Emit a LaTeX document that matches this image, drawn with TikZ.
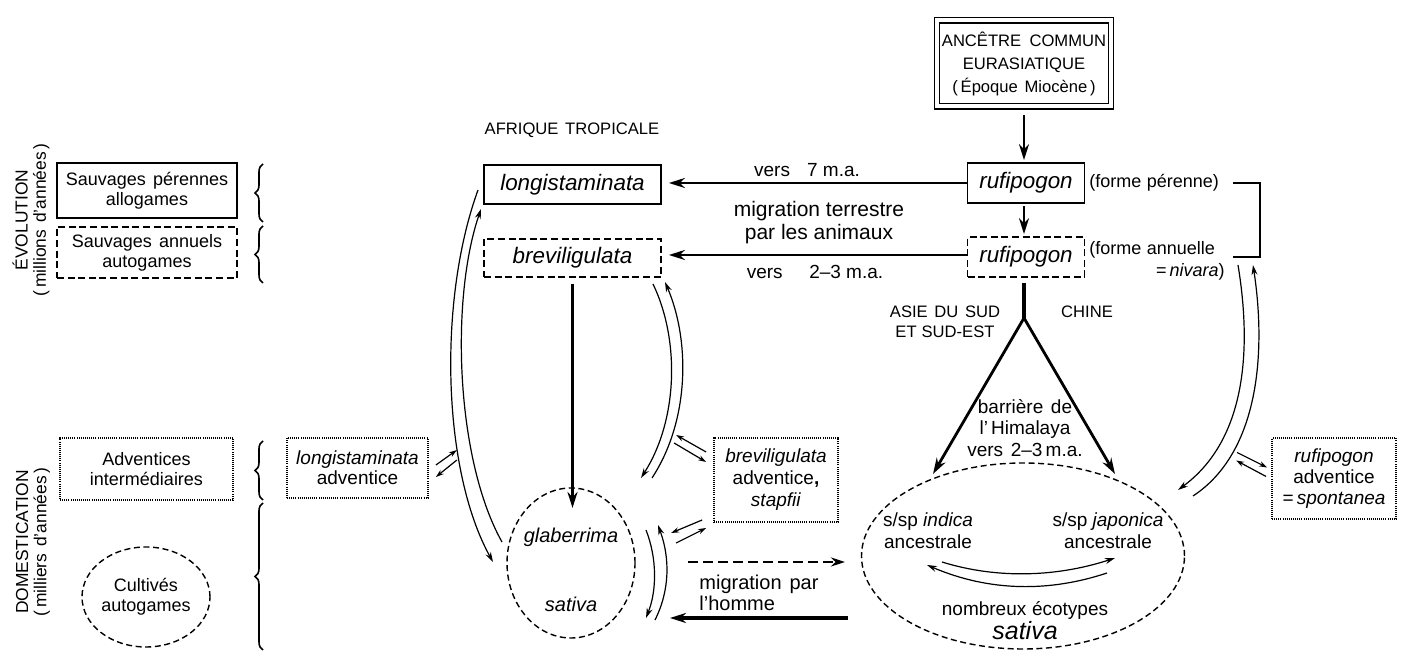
\documentclass[tikz,border=0pt]{standalone}
\usepackage{fontspec}
\setmainfont{Liberation Sans}
\usetikzlibrary{arrows.meta,decorations.pathreplacing,calc,shapes.geometric}
\begin{document}
\begin{tikzpicture}[x=0.5pt,y=-0.5pt,
  solidbox/.style={draw, line width=0.9pt, inner sep=0pt, align=center},
  dashbox/.style={draw, line width=0.9pt, dash pattern=on 3.5pt off 1.8pt, inner sep=0pt, align=center},
  dotbox/.style={draw, line width=0.9pt, dash pattern=on 0.45pt off 0.6pt, inner sep=0pt, align=center},
  dashell/.style={draw, ellipse, line width=0.7pt, dash pattern=on 3pt off 1.8pt, inner sep=0pt, align=center},
  txt/.style={inner sep=0pt, align=center},
  bigarrow/.style={line width=1.4pt, -{Stealth[length=8pt,width=5pt]}},
  thinarrow/.style={line width=0.6pt, -{Stealth[length=5pt,width=3pt]}},
  tinyarrow/.style={line width=0.6pt, -{Stealth[length=4pt,width=2.6pt]}},
  brace/.style={decorate, decoration={brace, amplitude=4pt}, line width=0.8pt},
  fa/.style={font=\fontsize{9}{10}\selectfont},
  fb/.style={font=\fontsize{9.5}{10.8}\selectfont},
  fc/.style={font=\fontsize{11.2}{13}\selectfont},
  fcap/.style={font=\fontsize{8.3}{10}\selectfont},
]
\useasboundingbox (0,0) rectangle (1415,656);

% ---------- legend ----------
\node[txt, rotate=90, font=\fontsize{8.7}{9.2}\selectfont] (evo) at (31,220) {ÉVOLUTION\\(\,millions\hspace{0.4em}d’années\,)};
\node[txt, rotate=90, font=\fontsize{8.7}{9.2}\selectfont] (dom) at (33,542) {DOMESTICATION\\(\,milliers\hspace{0.4em}d’années\,)};

\node[solidbox, fa, minimum width=90pt, minimum height=27.5pt] (lg1) at (147,190.5) {Sauvages\hspace{0.4em}pérennes\\allogames};
\node[dashbox, fa, minimum width=90pt, minimum height=25.5pt] (lg2) at (147,252.5) {Sauvages\hspace{0.4em}annuels\\autogames};
\node[dotbox, fa, minimum width=86.5pt, minimum height=31pt] (lg3) at (146.5,469) {Adventices\\intermédiaires};
\node[dashell, fa, minimum width=64pt, minimum height=50pt] (lg4) at (146,597) {Cultivés\\autogames};

\draw[brace] (263,222) -- (263,164);
\draw[brace] (263,283) -- (263,226);
\draw[brace] (263,500) -- (263,441);
\draw[brace] (263,650) -- (263,503);

% ---------- top ----------
\node[draw, double, double distance=2pt, line width=0.7pt, minimum width=87pt, minimum height=43pt, align=center, inner sep=0pt, font=\fontsize{8.3}{11.5}\selectfont] (anc) at (1024,63.5) {ANCÊTRE\hspace{0.5em}COMMUN\\EURASIATIQUE\\(\,Époque\hspace{0.4em}Miocène\,)};

\node[solidbox, fc, minimum width=58.5pt, minimum height=20pt] (rp1) at (1026,183) {\textit{rufipogon}};
\node[dashbox, fc, minimum width=58.5pt, minimum height=20pt] (rp2) at (1026,257) {\textit{rufipogon}};
\node[txt, fa, anchor=west] (fp) at (1089,183) {(forme\hspace{0.3em}pérenne)};
\node[txt, fa, anchor=west] (fa1) at (1089,250) {(forme\hspace{0.3em}annuelle};
\node[txt, fa, anchor=east] (fa2) at (1225,272) {=\,\textit{nivara})};
\coordinate (bk1) at (1233,183);
\coordinate (bk2) at (1233,257);
\draw[line width=0.8pt] (bk1) -- ++(27,0) |- (bk2);

\draw[bigarrow, line width=1.2pt, shorten <=4pt, shorten >=1pt] (anc.south -| 1024,0) -- (rp1.north -| 1024,0);
\draw[bigarrow, line width=1.2pt, shorten <=1pt, shorten >=1pt] (rp1.south -| 1024,0) -- (rp2.north -| 1024,0);

\node[txt, font=\fontsize{8.3}{10}\selectfont] (afr) at (572,130) {AFRIQUE\hspace{0.4em}TROPICALE};
\node[solidbox, fc, minimum width=88.5pt, minimum height=19.5pt] (longi) at (572.5,184.5) {\textit{longistaminata}};
\node[dashbox, fc, minimum width=88.5pt, minimum height=19pt] (brevi) at (572.5,258) {\textit{breviligulata}};

\draw[bigarrow, shorten >=3.5pt] (rp1.west) -- (rp1.west -| longi.east);
\draw[bigarrow, shorten >=3.5pt] (rp2.west) ++(0,-2) -- ($(rp2.west -| brevi.east)+(0,-2)$);
\node[txt, fb] (v7) at (807,170) {vers\hspace{0.9em}7 m.a.};
\node[txt, font=\fontsize{10.5}{11.5}\selectfont] (mig) at (819,223) {migration terrestre\\par les animaux};
\node[txt, fb] (v23) at (815,272) {vers\hspace{1.4em}2–3 m.a.};

% ---------- Africa ----------
\node[dashell, minimum width=64pt, minimum height=75pt] (glab) at (571,563) {};
\node[txt, font=\itshape\fontsize{10}{12}\selectfont] (tglab) at (571,537) {glaberrima};
\node[txt, font=\itshape\fontsize{10}{12}\selectfont] (tsat) at (571,604) {sativa};
\coordinate (gtop) at (571,508);
\draw[line width=1.7pt, -{Stealth[length=8pt,width=5pt]}, shorten <=3pt] (brevi.south) -- (brevi.south |- gtop);

% long arcs left
\coordinate (l1a) at (478,190);
\coordinate (l1b) at (493,562);
\coordinate (l2a) at (502,542);
\coordinate (l2b) at (481,209);
\draw[thinarrow] (l1a) .. controls (438,300) and (442,470) .. (l1b);
\draw[thinarrow] (l2a) .. controls (456,460) and (450,300) .. (l2b);

\node[dotbox, minimum width=70.5pt, minimum height=30pt, font=\fontsize{9.5}{10}\selectfont] (ladv) at (357.5,468) {\textit{longistaminata}\\adventice};
\draw[tinyarrow] ($(ladv.east)+(7,-3)$) -- ($(ladv.east)+(28,-18)$);
\draw[tinyarrow] ($(ladv.east)+(28,-8)$) -- ($(ladv.east)+(7,9)$);

% arcs right of brevi
\coordinate (r1a) at (653,284);
\coordinate (r1b) at (641,478);
\coordinate (r2a) at (652,478);
\coordinate (r2b) at (665,282);
\draw[thinarrow] (r1a) .. controls (680,340) and (678,420) .. (r1b);
\draw[thinarrow] (r2a) .. controls (690,420) and (690,340) .. (r2b);

\node[dotbox, minimum width=62pt, minimum height=42pt, font=\fontsize{9.5}{11}\selectfont] (badv) at (776,480) {\textit{breviligulata}\\adventice\textbf{,}\\\textit{stapfii}};
\draw[tinyarrow] ($(badv.west)+(-7,-28)$) -- ($(badv.west)+(-37,-45)$);
\draw[tinyarrow] ($(badv.west)+(-39,-37)$) -- ($(badv.west)+(-7,-18)$);
\draw[tinyarrow] ($(badv.west)+(-11,40)$) -- ($(badv.west)+(-42,53)$);
\draw[tinyarrow] ($(badv.west)+(-37,63)$) -- ($(badv.west)+(-7,48)$);

% arcs right of glab
\coordinate (ga1) at (646,530);
\coordinate (ga2) at (646,618);
\coordinate (gb1) at (655,620);
\coordinate (gb2) at (658,525);
\draw[thinarrow] (ga1) .. controls (657,558) and (657,590) .. (ga2);
\draw[thinarrow] (gb1) .. controls (670,590) and (670,558) .. (gb2);

% migration by man
\coordinate (dm1) at (688,562);
\coordinate (dm2) at (845,562);
\draw[line width=1.4pt, dash pattern=on 5pt off 2.5pt, -{Stealth[length=7pt,width=4.5pt]}] (dm1) -- (dm2);
\node[txt, anchor=north west, font=\fontsize{10}{10.5}\selectfont, align=left] (migh) at (699,575) {migration\hspace{0.4em}par\\l’homme};
\coordinate (sm1) at (848,618);
\coordinate (sm2) at (670,618);
\draw[line width=1.8pt, -{Stealth[length=8pt,width=5pt]}] (sm1) -- (sm2);

% ---------- Asia ----------
\coordinate (fork) at (1024,318);
\coordinate (ind) at (933,474);
\coordinate (jap) at (1115,474);
\draw[line width=1.6pt, shorten <=2.5pt] (rp2.south -| fork) -- (fork);
\draw[bigarrow] (fork) -- (ind);
\draw[bigarrow] (fork) -- (jap);
\node[txt, font=\fontsize{8.3}{10}\selectfont] (asie) at (945,322) {ASIE\hspace{0.4em}DU\hspace{0.4em}SUD\\ET\hspace{0.3em}SUD-EST};
\node[txt, font=\fontsize{8.3}{10}\selectfont] (chine) at (1087,312) {CHINE};
\node[txt, font=\fontsize{9.5}{10.7}\selectfont] (him) at (1025,428) {barrière\hspace{0.4em}de\\l’\,Himalaya\\vers\hspace{0.4em}2–3\,m.a.};

\node[dashell, minimum width=161.5pt, minimum height=93pt] (asia) at (1023,556) {};
\node[txt, fb, font=\fontsize{9.5}{11}\selectfont] (indt) at (928,531) {s/sp \textit{indica}\\ancestrale};
\node[txt, font=\fontsize{9.5}{11}\selectfont] (japt) at (1108,531) {s/sp \textit{japonica}\\ancestrale};
\coordinate (ia) at (942,562);
\coordinate (ib) at (1115,558);
\coordinate (ja) at (1107,573);
\coordinate (jb) at (927,565);
\draw[thinarrow] (ia) .. controls (1000,580) and (1060,576) .. (ib);
\draw[thinarrow] (ja) .. controls (1050,592) and (990,592) .. (jb);
\node[txt, font=\fontsize{9.5}{11}\selectfont] (nomb) at (1025,610) {nombreux\hspace{0.3em}écotypes};
\node[txt, font=\itshape\fontsize{12.5}{14}\selectfont] (sat) at (1025,631) {sativa};

% right arcs
\coordinate (c1a) at (1238,265);
\coordinate (c1b) at (1178,490);
\coordinate (c2a) at (1193,496);
\coordinate (c2b) at (1253,265);
\draw[thinarrow] (c1a) .. controls (1252,350) and (1246,440) .. (c1b);
\draw[thinarrow] (c2a) .. controls (1260,452) and (1266,350) .. (c2b);

\node[dotbox, minimum width=62pt, minimum height=40.5pt, font=\fontsize{9.5}{10.5}\selectfont] (radv) at (1334,478.5) {\textit{rufipogon}\\adventice\\=\,\textit{spontanea}};
\draw[tinyarrow] ($(radv.west)+(-34,-26)$) -- ($(radv.west)+(-4,-11)$);
\draw[tinyarrow] ($(radv.west)+(-5,-2)$) -- ($(radv.west)+(-35,-18)$);
\end{tikzpicture}
\end{document}
